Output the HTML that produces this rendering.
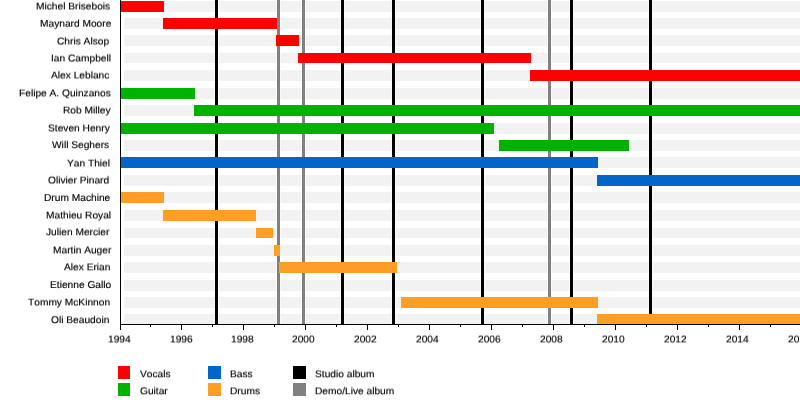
<!DOCTYPE html>
<html><head><meta charset="utf-8"><title>Timeline</title>
<style>
html,body{margin:0;padding:0;background:#fff;}
#c{position:relative;width:800px;height:404px;overflow:hidden;background:#fff;font-family:"Liberation Sans",sans-serif;font-size:10.2px;color:#000;-webkit-text-stroke:0.15px #000;font-kerning:none;text-rendering:geometricPrecision;}
#c div,#c span{position:absolute;}
.s{background:#f2f2f2;left:124px;width:700px;}
.n{right:690px;top:0;white-space:nowrap;line-height:12px;height:12px;will-change:transform;transform-origin:0 9px;}
.t{left:0;top:0;white-space:nowrap;line-height:12px;height:12px;will-change:transform;transform-origin:0 9px;}
.k{background:#000;top:0;height:324px;box-shadow:-1px 0 0 rgba(255,255,255,.6),1px 0 0 rgba(255,255,255,.6);}
.g{background:#808080;top:0;height:324px;box-shadow:-1px 0 0 rgba(255,255,255,.5),1px 0 0 rgba(255,255,255,.5);}
.m{background:#000;width:1px;top:324px;}
</style></head><body><div id="c">

<div class="s" style="top:1.20px;height:10.8px"></div>
<div class="s" style="top:18.00px;height:10.8px"></div>
<div class="s" style="top:35.00px;height:10.8px"></div>
<div class="s" style="top:52.60px;height:10.8px"></div>
<div class="s" style="top:69.90px;height:10.8px"></div>
<div class="s" style="top:88.00px;height:10.8px"></div>
<div class="s" style="top:105.00px;height:10.8px"></div>
<div class="s" style="top:122.80px;height:10.8px"></div>
<div class="s" style="top:140.20px;height:10.8px"></div>
<div class="s" style="top:157.40px;height:10.8px"></div>
<div class="s" style="top:174.90px;height:10.8px"></div>
<div class="s" style="top:192.10px;height:10.8px"></div>
<div class="s" style="top:210.20px;height:10.8px"></div>
<div class="s" style="top:227.60px;height:10.8px"></div>
<div class="s" style="top:244.90px;height:10.8px"></div>
<div class="s" style="top:262.00px;height:10.8px"></div>
<div class="s" style="top:279.90px;height:10.8px"></div>
<div class="s" style="top:297.00px;height:10.8px"></div>
<div class="s" style="top:313.80px;height:10.8px"></div>
<div class="k" style="left:215px;width:3.00px"></div>
<div class="k" style="left:341.25px;width:3.00px"></div>
<div class="k" style="left:392.3px;width:3.00px"></div>
<div class="k" style="left:481px;width:3.00px"></div>
<div class="k" style="left:570px;width:3.00px"></div>
<div class="k" style="left:649.4px;width:3.00px"></div>
<div class="g" style="left:277px;width:2.50px"></div>
<div class="g" style="left:302px;width:2.50px"></div>
<div class="g" style="left:548.3px;width:2.50px"></div>
<div style="left:121px;width:42.75px;top:1.20px;height:10.8px;background:#ff0000"></div>
<div style="left:163px;width:114.00px;top:18.00px;height:10.8px;background:#ff0000"></div>
<div style="left:276.25px;width:22.50px;top:35.00px;height:10.8px;background:#ff0000"></div>
<div style="left:298px;width:233.00px;top:52.60px;height:10.8px;background:#ff0000"></div>
<div style="left:530px;width:270.00px;top:69.90px;height:10.8px;background:#ff0000"></div>
<div style="left:121px;width:74.00px;top:88.00px;height:10.8px;background:#00b200"></div>
<div style="left:194px;width:606.00px;top:105.00px;height:10.8px;background:#00b200"></div>
<div style="left:121px;width:372.75px;top:122.80px;height:10.8px;background:#00b200"></div>
<div style="left:499px;width:130.25px;top:140.20px;height:10.8px;background:#00b200"></div>
<div style="left:121px;width:477.00px;top:157.40px;height:10.8px;background:#0066cc"></div>
<div style="left:597px;width:203.00px;top:174.90px;height:10.8px;background:#0066cc"></div>
<div style="left:121px;width:43.00px;top:192.10px;height:10.8px;background:#ff9e24"></div>
<div style="left:163px;width:93.00px;top:210.20px;height:10.8px;background:#ff9e24"></div>
<div style="left:256px;width:17.00px;top:227.60px;height:10.8px;background:#ff9e24"></div>
<div style="left:274px;width:6.00px;top:244.90px;height:10.8px;background:#ff9e24"></div>
<div style="left:279px;width:118.00px;top:262.00px;height:10.8px;background:#ff9e24"></div>
<div style="left:401px;width:196.80px;top:297.00px;height:10.8px;background:#ff9e24"></div>
<div style="left:597.2px;width:202.80px;top:313.80px;height:10.8px;background:#ff9e24"></div>
<div style="left:120px;top:0;width:1.2px;height:324.5px;background:#000"></div>
<div style="left:120px;top:323.5px;width:680px;height:1.1px;background:#000"></div>
<div class="m" style="left:120.00px;height:5.6px"></div>
<div class="m" style="left:150.00px;height:2.8px"></div>
<div class="m" style="left:181.00px;height:5.6px"></div>
<div class="m" style="left:212.00px;height:2.8px"></div>
<div class="m" style="left:243.00px;height:5.6px"></div>
<div class="m" style="left:274.00px;height:2.8px"></div>
<div class="m" style="left:305.00px;height:5.6px"></div>
<div class="m" style="left:336.00px;height:2.8px"></div>
<div class="m" style="left:367.00px;height:5.6px"></div>
<div class="m" style="left:398.00px;height:2.8px"></div>
<div class="m" style="left:429.00px;height:5.6px"></div>
<div class="m" style="left:460.00px;height:2.8px"></div>
<div class="m" style="left:491.00px;height:5.6px"></div>
<div class="m" style="left:522.00px;height:2.8px"></div>
<div class="m" style="left:553.00px;height:5.6px"></div>
<div class="m" style="left:584.00px;height:2.8px"></div>
<div class="m" style="left:615.00px;height:5.6px"></div>
<div class="m" style="left:646.00px;height:2.8px"></div>
<div class="m" style="left:677.00px;height:5.6px"></div>
<div class="m" style="left:708.00px;height:2.8px"></div>
<div class="m" style="left:739.00px;height:5.6px"></div>
<div class="m" style="left:770.00px;height:2.8px"></div>
<div class="m" style="left:801.00px;height:5.6px"></div>
<span class="n" style="transform:translate(0px,1.40px) scale(1,0.97)">Michel Brisebois</span>
<span class="n" style="transform:translate(1px,18.65px) scale(1,0.97)">Maynard Moore</span>
<span class="n" style="transform:translate(-1px,36.40px) scale(1,0.97)">Chris Alsop</span>
<span class="n" style="transform:translate(1px,53.40px) scale(1,0.97)">Ian Campbell</span>
<span class="n" style="transform:translate(-1px,70.40px) scale(1,0.97)">Alex Leblanc</span>
<span class="n" style="transform:translate(1px,88.30px) scale(1,0.97)">Felipe A. Quinzanos</span>
<span class="n" style="transform:translate(1px,105.40px) scale(1,0.97)">Rob Milley</span>
<span class="n" style="transform:translate(0px,123.30px) scale(1,0.97)">Steven Henry</span>
<span class="n" style="transform:translate(-1px,140.10px) scale(1,0.97)">Will Seghers</span>
<span class="n" style="transform:translate(0px,158.40px) scale(1,0.97)">Yan Thiel</span>
<span class="n" style="transform:translate(-1px,175.40px) scale(1,0.97)">Olivier Pinard</span>
<span class="n" style="transform:translate(0px,192.90px) scale(1,0.97)">Drum Machine</span>
<span class="n" style="transform:translate(1px,210.40px) scale(1,0.97)">Mathieu Royal</span>
<span class="n" style="transform:translate(-1px,227.20px) scale(1,0.97)">Julien Mercier</span>
<span class="n" style="transform:translate(1px,245.30px) scale(1,0.97)">Martin Auger</span>
<span class="n" style="transform:translate(0px,262.25px) scale(1,0.97)">Alex Erian</span>
<span class="n" style="transform:translate(1px,279.90px) scale(1,0.97)">Etienne Gallo</span>
<span class="n" style="transform:translate(0px,297.40px) scale(1,0.97)">Tommy McKinnon</span>
<span class="n" style="transform:translate(-1px,315.10px) scale(1,0.97)">Oli Beaudoin</span>
<span class="t" style="transform:translate(108px,334.40px) scale(1,0.97)">1994</span>
<span class="t" style="transform:translate(170px,334.40px) scale(1,0.97)">1996</span>
<span class="t" style="transform:translate(231px,334.40px) scale(1,0.97)">1998</span>
<span class="t" style="transform:translate(292px,334.40px) scale(1,0.97)">2000</span>
<span class="t" style="transform:translate(354px,334.40px) scale(1,0.97)">2002</span>
<span class="t" style="transform:translate(416px,334.40px) scale(1,0.97)">2004</span>
<span class="t" style="transform:translate(478px,334.40px) scale(1,0.97)">2006</span>
<span class="t" style="transform:translate(540px,334.40px) scale(1,0.97)">2008</span>
<span class="t" style="transform:translate(602px,334.40px) scale(1,0.97)">2010</span>
<span class="t" style="transform:translate(664px,334.40px) scale(1,0.97)">2012</span>
<span class="t" style="transform:translate(726px,334.40px) scale(1,0.97)">2014</span>
<span class="t" style="transform:translate(788px,334.40px) scale(1,0.97)">2016</span>
<div style="left:118.2px;top:366.1px;width:11.6px;height:12.7px;background:#ff0000"></div>
<span class="t" style="transform:translate(140px,369.20px) scale(1,0.97)">Vocals</span>
<div style="left:118.2px;top:383.1px;width:11.6px;height:12.7px;background:#00b200"></div>
<span class="t" style="transform:translate(140px,386.20px) scale(1,0.97)">Guitar</span>
<div style="left:208.2px;top:366.1px;width:12.6px;height:12.7px;background:#0066cc"></div>
<span class="t" style="transform:translate(230px,369.20px) scale(1,0.97)">Bass</span>
<div style="left:208.2px;top:383.1px;width:12.6px;height:12.7px;background:#ff9e24"></div>
<span class="t" style="transform:translate(230px,386.20px) scale(1,0.97)">Drums</span>
<div style="left:293.2px;top:366.1px;width:12.6px;height:12.7px;background:#000"></div>
<span class="t" style="transform:translate(315px,369.20px) scale(1,0.97)">Studio album</span>
<div style="left:293.2px;top:383.1px;width:12.6px;height:12.7px;background:#808080"></div>
<span class="t" style="transform:translate(315px,386.20px) scale(1,0.97)">Demo/Live album</span>
</div></body></html>
